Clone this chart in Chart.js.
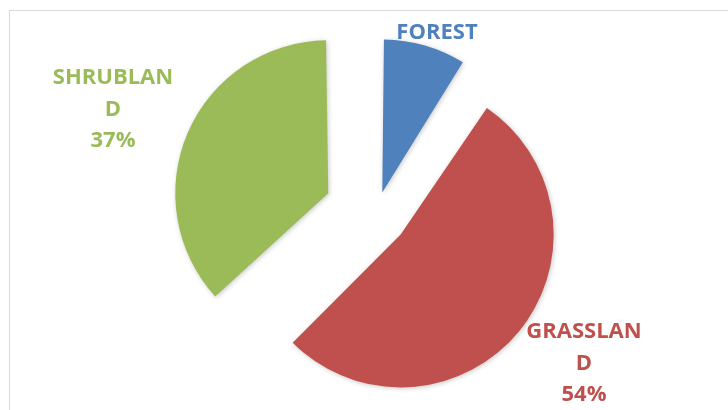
<!DOCTYPE html>
<html>
<head>
<meta charset="utf-8">
<script src="https://cdn.jsdelivr.net/npm/chart.js@4/dist/chart.umd.min.js"></script>
<style>
  html, body { margin: 0; padding: 0; background: #fff; }
  #wrap { position: relative; width: 728px; height: 410px; overflow: hidden; }
  #frame { position: absolute; left: 9px; top: 10px; width: 740px; height: 420px;
           border-left: 1px solid #d9d9d9; border-top: 1px solid #d9d9d9; }
  canvas { position: absolute; left: 0; top: 0; }
</style>
</head>
<body>
<div id="wrap">
  <div id="frame"></div>
  <canvas id="torta" width="728" height="410"></canvas>
</div>
<script>
// Dati della torta
const categorie = ['FOREST', 'GRASSLAND', 'SHRUBLAND'];
const valori = [9, 54, 37];
const colori = ['#4F81BD', '#C0504D', '#9BBB59'];

// Etichette disegnate a mano (come in Excel, spezzate a 8 caratteri)
const posEtichette = [[437, 33], [584, 332], [113, 78]];
const interlinea = 31.5;
const raggio = 153;

const etichettePlugin = {
    id: 'etichette',
    // Chart.js allarga il raggio delle fette staccate: lo riportiamo uguale per tutte
    afterDatasetUpdate(chart, args) {
        args.meta.data.forEach(arc => {
            const d = (arc.options.offset || 0) / 4;
            const fix = 1 - Math.sin(Math.min(Math.PI, arc.circumference));
            arc.outerRadius = raggio - d * fix;
        });
    },
    beforeDatasetsDraw(chart) {
        const ctx = chart.ctx;
        const totale = valori.reduce((a, b) => a + b, 0);
        ctx.save();
        ctx.font = 'bold 22px "Open Sans", sans-serif';
        ctx.textAlign = 'center';
        ctx.textBaseline = 'middle';
        categorie.forEach((nome, i) => {
            const righe = [];
            for (let k = 0; k < nome.length; k += 8) righe.push(nome.slice(k, k + 8));
            righe.push(Math.round(valori[i] / totale * 100) + '%');
            ctx.fillStyle = colori[i];
            righe.forEach((r, j) => {
                ctx.fillText(r, posEtichette[i][0], posEtichette[i][1] + j * interlinea);
            });
        });
        ctx.restore();
    },
    beforeDatasetDraw(chart) {
        const ctx = chart.ctx;
        ctx.save();
        ctx.shadowColor = 'rgba(0,0,0,0.22)';
        ctx.shadowBlur = 5;
        ctx.shadowOffsetX = 1;
        ctx.shadowOffsetY = 1;
    },
    afterDatasetDraw(chart) {
        chart.ctx.restore();
    }
};

const ctx = document.getElementById('torta').getContext('2d');
const grafico = new Chart(ctx, {
    type: 'pie',
    data: {
        labels: categorie,
        datasets: [{
            data: valori,
            backgroundColor: colori,
            borderWidth: 0,
            // Chart.js sposta la fetta di offset/4
            offset: [90, 128, 208],
            radius: raggio,
            clip: false
        }]
    },
    options: {
        responsive: false,
        animation: false,
        layout: { padding: { left: 24, top: 18, right: 0, bottom: 0 } },
        plugins: {
            legend: { display: false },
            tooltip: { enabled: false }
        }
    },
    plugins: [etichettePlugin]
});
</script>
</body>
</html>
